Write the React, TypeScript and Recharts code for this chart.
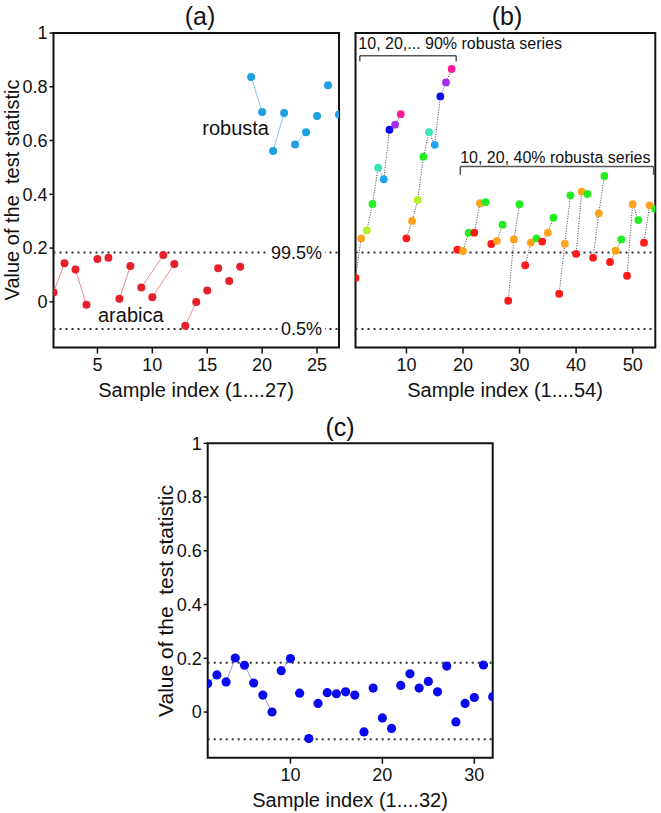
import React from 'react';
import {
  ScatterChart,
  Scatter,
  XAxis,
  YAxis,
  ReferenceLine,
  ReferenceArea,
  ReferenceDot,
} from 'recharts';

const FONT = '"Liberation Sans", Arial, Helvetica, sans-serif';

// ---- panel (a): arabica (1-18) and robusta (19-27) samples
const arabicaValues = [
  0.035, 0.143, 0.12, -0.011, 0.159, 0.164, 0.011, 0.133, 0.053, 0.017, 0.174, 0.141, -0.089,
  -0.001, 0.042, 0.125, 0.077, 0.13,
];
const robustaValues = [0.836, 0.706, 0.561, 0.702, 0.585, 0.631, 0.691, 0.806, 0.697];
const arabicaLinks = [[1, 2], [3, 4], [7, 8], [9, 11], [10, 12], [13, 14]];
const robustaLinks = [[19, 20], [21, 22], [23, 24]];

// ---- panel (b): blends
const blendRunA = [0.089, 0.236, 0.266, 0.364, 0.499, 0.456, 0.64, 0.659, 0.698];
const blendRunB = [0.236, 0.301, 0.379, 0.54, 0.631, 0.584, 0.764, 0.816, 0.866];
const lowBlendValues = [
  0.194, 0.189, 0.257, 0.257, 0.367, 0.371, 0.215, 0.227, 0.287, 0.004, 0.232, 0.363, 0.136, 0.22,
  0.236, 0.224, 0.257, 0.313, 0.03, 0.216, 0.396, 0.178, 0.41, 0.401, 0.164, 0.329, 0.468, 0.148,
  0.19, 0.232, 0.097, 0.363, 0.304, 0.22, 0.359, 0.345,
];
const blendLevels = ['10%', '20%', '30%', '40%', '50%', '60%', '70%', '80%', '90%'];
const lowBlendLevels = ['10%', '20%', '40%'];
const levelColors = [
  '#ff1a1a', '#ffa31a', '#b8f028', '#22ee22', '#3ae6b8', '#1ea6f2', '#0a0ae8', '#a12cf0', '#ff1a9c',
];

// ---- panel (c): test samples
const testValues = [
  0.106, 0.138, 0.112, 0.201, 0.174, 0.108, 0.063, 0.0, 0.154, 0.199, 0.07, -0.099, 0.032, 0.072,
  0.068, 0.075, 0.063, -0.074, 0.089, -0.022, -0.061, 0.099, 0.142, 0.089, 0.114, 0.075, 0.171,
  -0.037, 0.032, 0.054, 0.175, 0.057,
];
const testLinks = [[1, 2], [3, 4], [5, 6], [7, 8], [9, 10]];

const yTicks = [0, 0.2, 0.4, 0.6, 0.8, 1];
const yDomain: [number, number] = [-0.17, 1];
const upperLimit = 0.183;
const lowerLimit = -0.101;

const arabicaPts = arabicaValues.map((y, i) => ({ x: i + 1, y }));
const robustaPts = robustaValues.map((y, i) => ({ x: i + 19, y }));
const panelAPts = [...arabicaPts, ...robustaPts];
const linkData = (pts: { x: number; y: number }[], pair: number[]) => [pts[pair[0] - 1], pts[pair[1] - 1]];

const blendGroups = [
  blendRunA.map((y, i) => ({ x: i + 1, y, level: blendLevels[i] })),
  blendRunB.map((y, i) => ({ x: i + 10, y, level: blendLevels[i] })),
];
for (let t = 0; t < lowBlendValues.length / 3; t++) {
  blendGroups.push(
    lowBlendLevels.map((lv, k) => ({ x: 19 + t * 3 + k, y: lowBlendValues[t * 3 + k], level: lv }))
  );
}
const testPts = testValues.map((y, i) => ({ x: i + 1, y }));

const dot = (r: number, color: string) => (p: any) => <circle cx={p.cx} cy={p.cy} r={r} fill={color} />;
const noDot = () => <g />;

const textMark =
  (text: string, size: number, anchor: 'start' | 'end' = 'start', bg = 0) =>
  (p: any) =>
    (
      <g>
        {bg > 0 && <rect x={p.cx - bg - 2} y={p.cy - 9} width={bg + 5} height={18} fill="#fff" />}
        <text x={p.cx} y={p.cy} dy="0.35em" textAnchor={anchor} fontSize={size} fontFamily={FONT} fill="#111">
          {text}
        </text>
      </g>
    );

const tickStyle = { fill: '#111', fontSize: 18, fontFamily: FONT };
const limitLine = { stroke: '#333', strokeWidth: 2, strokeDasharray: '2 4' };

const Txt: React.FC<{ x: number; y: number; size: number; rot?: boolean; children: React.ReactNode }> = ({
  x,
  y,
  size,
  rot,
  children,
}) => (
  <div
    style={{
      position: 'absolute',
      left: x,
      top: y,
      transform: 'translate(-50%, -50%)' + (rot ? ' rotate(-90deg)' : ''),
      fontSize: size,
      fontFamily: FONT,
      lineHeight: 1,
      whiteSpace: 'pre',
      color: '#111',
    }}
  >
    {children}
  </div>
);

const xAxisProps = {
  dataKey: 'x',
  type: 'number' as const,
  height: 30,
  tickSize: 6,
  tickMargin: 5,
  axisLine: false,
  tickLine: { stroke: '#111', strokeWidth: 1.5 },
  tick: tickStyle,
  allowDataOverflow: true,
};

const App: React.FC = () => {
  return (
    <div style={{ position: 'absolute', left: 0, top: 0, width: 661, height: 813, background: '#fff' }}>
      {/* (a) */}
      <div style={{ position: 'absolute', left: 0, top: 0 }}>
        <ScatterChart width={350} height={400} margin={{ top: 33, right: 11, bottom: 22.5, left: 3.5 }}>
          <XAxis {...xAxisProps} domain={[1, 27]} ticks={[5, 10, 15, 20, 25]} />
          <YAxis
            dataKey="y"
            type="number"
            width={50}
            domain={yDomain}
            ticks={yTicks}
            tickSize={4}
            axisLine={false}
            tickLine={{ stroke: '#111', strokeWidth: 1.5 }}
            tick={tickStyle}
            allowDataOverflow
          />
          <ReferenceArea x1={1} x2={27} y1={yDomain[0]} y2={yDomain[1]} fill="none" stroke="#111" strokeWidth={2} />
          <ReferenceLine y={upperLimit} {...limitLine} />
          <ReferenceLine y={lowerLimit} {...limitLine} />
          <ReferenceDot x={25.45} y={upperLimit} r={0} shape={textMark('99.5%', 18, 'end', 52)} />
          <ReferenceDot x={25.45} y={lowerLimit} r={0} shape={textMark('0.5%', 18, 'end', 42)} />
          <ReferenceDot x={14.55} y={0.647} r={0} shape={textMark('robusta', 20)} />
          <ReferenceDot x={5.05} y={-0.05} r={0} shape={textMark('arabica', 20)} />
          {arabicaLinks.map((pr, i) => (
            <Scatter
              key={'al' + i}
              data={linkData(panelAPts, pr)}
              line={{ stroke: '#f08a8a', strokeWidth: 1 }}
              shape={noDot}
              isAnimationActive={false}
            />
          ))}
          {robustaLinks.map((pr, i) => (
            <Scatter
              key={'rl' + i}
              data={linkData(panelAPts, pr)}
              line={{ stroke: '#7fcaf0', strokeWidth: 1 }}
              shape={noDot}
              isAnimationActive={false}
            />
          ))}
          <Scatter name="arabica" data={arabicaPts} shape={dot(4, '#e5202a')} isAnimationActive={false} />
          <Scatter name="robusta" data={robustaPts} shape={dot(4, '#1ea0e2')} isAnimationActive={false} />
        </ScatterChart>
      </div>

      {/* (b) */}
      <div style={{ position: 'absolute', left: 300, top: 0 }}>
        <ScatterChart width={361} height={400} margin={{ top: 33, right: 5.7, bottom: 22.5, left: 55.5 }}>
          <XAxis {...xAxisProps} domain={[1, 54]} ticks={[10, 20, 30, 40, 50]} />
          <YAxis dataKey="y" type="number" hide domain={yDomain} allowDataOverflow />
          <ReferenceArea x1={1} x2={54} y1={yDomain[0]} y2={yDomain[1]} fill="none" stroke="#111" strokeWidth={2} />
          <ReferenceLine y={upperLimit} {...limitLine} />
          <ReferenceLine y={lowerLimit} {...limitLine} />
          <ReferenceLine segment={[{ x: 1.76, y: 0.894 }, { x: 1.76, y: 0.915 }]} stroke="#555" strokeWidth={1.5} />
          <ReferenceLine segment={[{ x: 1.76, y: 0.915 }, { x: 18.8, y: 0.915 }]} stroke="#555" strokeWidth={1.5} />
          <ReferenceLine segment={[{ x: 18.8, y: 0.915 }, { x: 18.8, y: 0.894 }]} stroke="#555" strokeWidth={1.5} />
          <ReferenceLine segment={[{ x: 19.53, y: 0.472 }, { x: 19.53, y: 0.503 }]} stroke="#555" strokeWidth={1.5} />
          <ReferenceLine segment={[{ x: 19.53, y: 0.503 }, { x: 53.7, y: 0.503 }]} stroke="#555" strokeWidth={1.5} />
          <ReferenceLine segment={[{ x: 53.7, y: 0.503 }, { x: 53.7, y: 0.472 }]} stroke="#555" strokeWidth={1.5} />
          <ReferenceDot x={1.5} y={0.96} r={0} shape={textMark('10, 20,... 90% robusta series', 16)} />
          <ReferenceDot x={19.5} y={0.537} r={0} shape={textMark('10, 20, 40% robusta series', 16)} />
          {blendGroups.map((g, i) => (
            <Scatter
              key={'bg' + i}
              data={g}
              line={{ stroke: '#444', strokeWidth: 1, strokeDasharray: '1 1.5' }}
              shape={(p: any) => (
                <circle cx={p.cx} cy={p.cy} r={3.9} fill={levelColors[blendLevels.indexOf(p.payload.level)]} />
              )}
              isAnimationActive={false}
            />
          ))}
        </ScatterChart>
      </div>

      {/* (c) */}
      <div style={{ position: 'absolute', left: 100, top: 400 }}>
        <ScatterChart width={420} height={413} margin={{ top: 43.3, right: 27.3, bottom: 25.3, left: 57.7 }}>
          <XAxis {...xAxisProps} domain={[1, 32]} ticks={[10, 20, 30]} />
          <YAxis
            dataKey="y"
            type="number"
            width={50}
            domain={yDomain}
            ticks={yTicks}
            tickSize={4}
            axisLine={false}
            tickLine={{ stroke: '#111', strokeWidth: 1.5 }}
            tick={tickStyle}
            allowDataOverflow
          />
          <ReferenceArea x1={1} x2={32} y1={yDomain[0]} y2={yDomain[1]} fill="none" stroke="#111" strokeWidth={2} />
          <ReferenceLine y={upperLimit} {...limitLine} />
          <ReferenceLine y={lowerLimit} {...limitLine} />
          {testLinks.map((pr, i) => (
            <Scatter
              key={'tl' + i}
              data={linkData(testPts, pr)}
              line={{ stroke: '#9a9ae8', strokeWidth: 1 }}
              shape={noDot}
              isAnimationActive={false}
            />
          ))}
          <Scatter name="test" data={testPts} shape={dot(4.6, '#0a0af0')} isAnimationActive={false} />
        </ScatterChart>
      </div>

      <Txt x={200} y={16} size={25}>(a)</Txt>
      <Txt x={507} y={16} size={25}>(b)</Txt>
      <Txt x={340} y={427} size={25}>(c)</Txt>
      <Txt x={196} y={390} size={20}>Sample index (1....27)</Txt>
      <Txt x={505} y={390} size={20}>Sample index (1....54)</Txt>
      <Txt x={350} y={800} size={20}>Sample index (1....32)</Txt>
      <Txt x={12} y={190} size={20} rot>Value of the  test statistic</Txt>
      <Txt x={165} y={601} size={21} rot>Value of the  test statistic</Txt>
    </div>
  );
};

export default App;
